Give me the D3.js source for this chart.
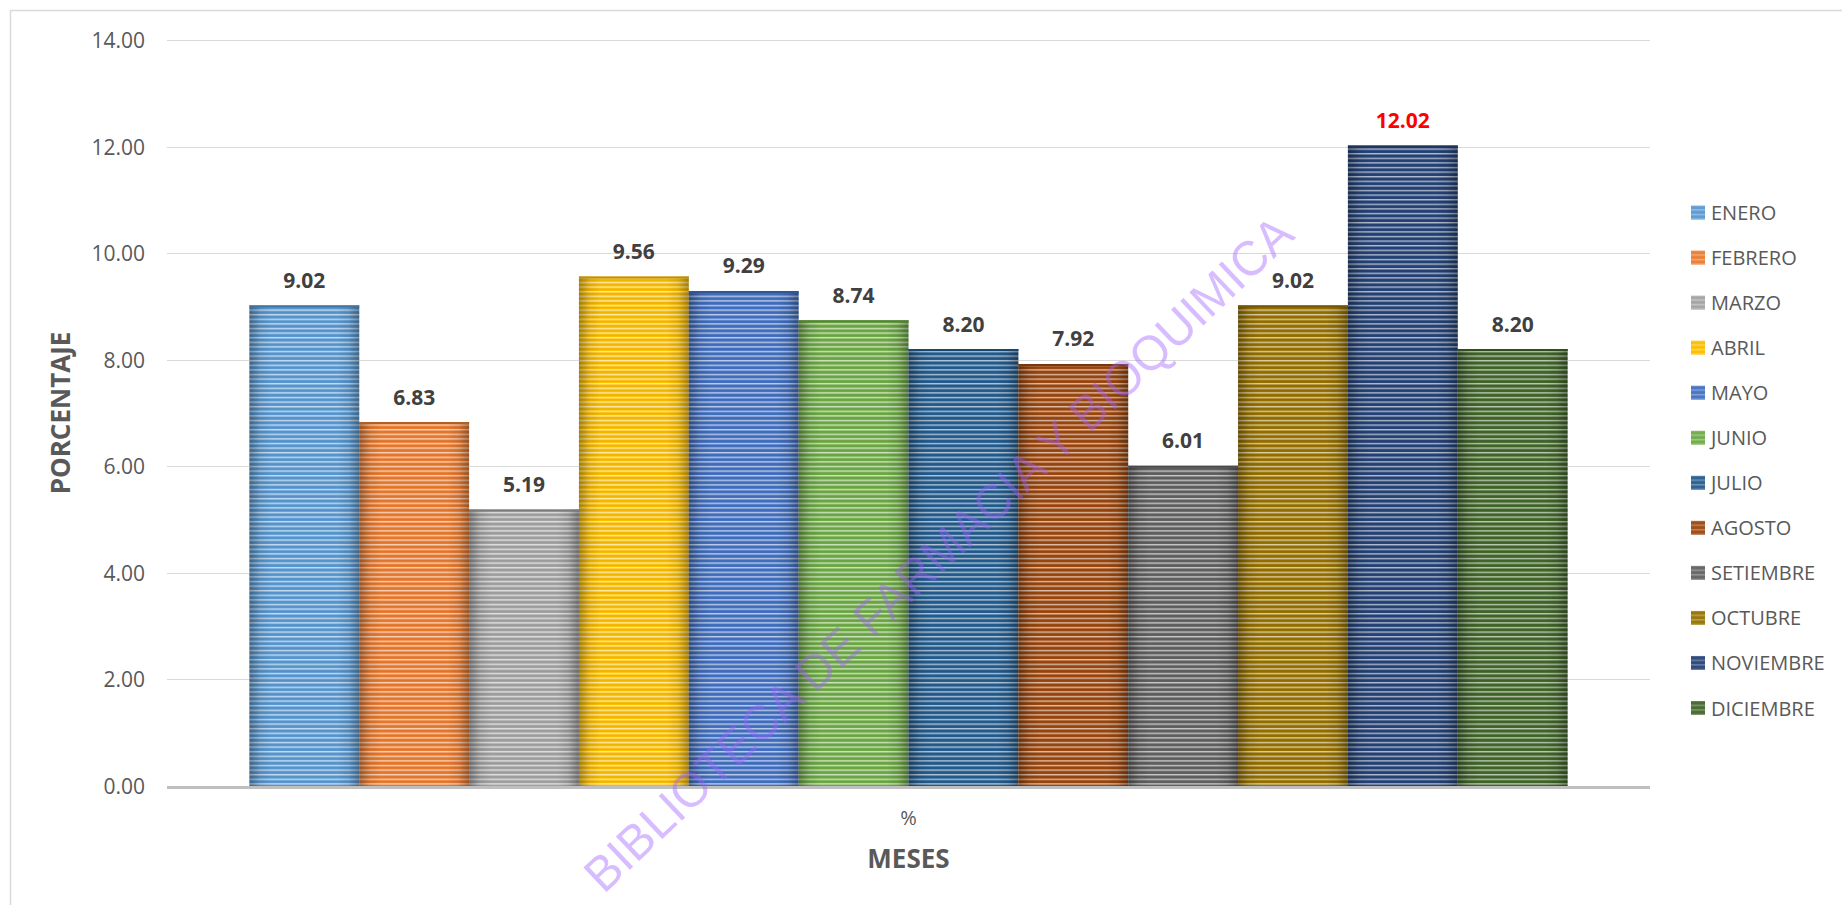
<!DOCTYPE html>
<html>
<head>
<meta charset="utf-8">
<script src="https://cdn.jsdelivr.net/npm/d3@7"></script>
<style>
  html, body { margin: 0; padding: 0; background: #ffffff; overflow: hidden; }
  svg { display: block; font-family: "Open Sans", "Liberation Sans", sans-serif; }
</style>
</head>
<body>
<svg id="chart" width="1842" height="905"></svg>
<script>
// Monthly percentages (one cluster, one bar per month)
const months = ["ENERO", "FEBRERO", "MARZO", "ABRIL", "MAYO", "JUNIO", "JULIO",
                "AGOSTO", "SETIEMBRE", "OCTUBRE", "NOVIEMBRE", "DICIEMBRE"];
const values = [9.02, 6.83, 5.19, 9.56, 9.29, 8.74, 8.20, 7.92, 6.01, 9.02, 12.02, 8.20];
const colors = ["#5b9bd5", "#ed7d31", "#a5a5a5", "#ffc000", "#4472c4", "#70ad47",
                "#255e91", "#9e480e", "#636363", "#997300", "#264478", "#43682b"];
const categories = ["%"];
const yTicks = [0, 2, 4, 6, 8, 10, 12, 14];
const highlightMonth = "NOVIEMBRE";

const svg = d3.select("#chart");
const defs = svg.append("defs");

// plot frame
const plot = { left: 167, right: 1650, top: 40, bottom: 786 };

const y = d3.scaleLinear().domain([0, 14]).range([plot.bottom, plot.top]);
const xCat = d3.scaleBand().domain(categories).range([plot.left, plot.right]);
const xMonth = d3.scaleBand().domain(months)
  .range([xCat("%"), xCat("%") + xCat.bandwidth()])
  .paddingInner(0).paddingOuter(0.75);

// outer chart border
svg.append("rect")
  .attr("x", 10.5).attr("y", 10.5)
  .attr("width", 1900).attr("height", 1000)
  .attr("fill", "none").attr("stroke", "#d9d9d9").attr("stroke-width", 1.5);

// gridlines
svg.append("g")
  .selectAll("line")
  .data(yTicks.filter(t => t > 0))
  .join("line")
  .attr("x1", plot.left).attr("x2", plot.right)
  .attr("y1", d => Math.round(y(d)) + 0.5).attr("y2", d => Math.round(y(d)) + 0.5)
  .attr("stroke", "#d9d9d9").attr("stroke-width", 1);

// y axis labels
const yAxis = d3.axisLeft(y).tickValues(yTicks).tickFormat(d3.format(".2f")).tickSize(0).tickPadding(0);
const yAxisG = svg.append("g").attr("transform", `translate(${plot.left - 22},0)`).call(yAxis);
yAxisG.select(".domain").remove();
yAxisG.selectAll("text")
  .attr("font-family", "'Open Sans', sans-serif")
  .attr("font-size", 21).attr("fill", "#595959").attr("dy", "0.36em");

// stripe patterns and side shading
const mix = (c, t, a) => d3.interpolateRgb(c, t)(a);
months.forEach((m, i) => {
  const base = colors[i];
  const grad = defs.append("linearGradient")
    .attr("id", "stripe-grad-" + i)
    .attr("x1", 0).attr("y1", 0).attr("x2", 0).attr("y2", 1);
  [[0, mix(base, "#000", 0.1)], [0.3, base], [0.55, mix(base, "#fff", 0.78)],
   [0.8, base], [1, mix(base, "#000", 0.1)]]
    .forEach(([o, c]) => grad.append("stop").attr("offset", o).attr("stop-color", c));
  const pat = defs.append("pattern")
    .attr("id", "stripe-" + i)
    .attr("patternUnits", "userSpaceOnUse")
    .attr("width", 40).attr("height", 4.6)
    .attr("y", plot.bottom);
  pat.append("rect").attr("width", 40).attr("height", 4.6).attr("fill", `url(#stripe-grad-${i})`);
});
const shade = defs.append("linearGradient").attr("id", "side-shade")
  .attr("x1", 0).attr("y1", 0).attr("x2", 1).attr("y2", 0);
[[0, 0.32], [0.1, 0.08], [0.2, 0], [0.8, 0], [0.9, 0.08], [1, 0.32]]
  .forEach(([o, a]) => shade.append("stop").attr("offset", o)
    .attr("stop-color", "#000").attr("stop-opacity", a));

const bars = svg.append("g");
const barData = months.map((m, i) => ({ month: m, value: values[i], color: colors[i], i }));

bars.selectAll("rect.bar")
  .data(barData)
  .join("rect")
  .attr("class", "bar")
  .attr("x", d => xMonth(d.month))
  .attr("y", d => y(d.value))
  .attr("width", xMonth.bandwidth())
  .attr("height", d => y(0) - y(d.value))
  .attr("fill", d => `url(#stripe-${d.i})`);

bars.selectAll("rect.shade")
  .data(barData)
  .join("rect")
  .attr("class", "shade")
  .attr("x", d => xMonth(d.month))
  .attr("y", d => y(d.value))
  .attr("width", xMonth.bandwidth())
  .attr("height", d => y(0) - y(d.value))
  .attr("fill", "url(#side-shade)");

// darker top edge of each bar
bars.selectAll("line.top")
  .data(barData)
  .join("line")
  .attr("class", "top")
  .attr("x1", d => xMonth(d.month)).attr("x2", d => xMonth(d.month) + xMonth.bandwidth())
  .attr("y1", d => y(d.value) + 1).attr("y2", d => y(d.value) + 1)
  .attr("stroke", d => mix(d.color, "#000", 0.25)).attr("stroke-width", 2);

// baseline axis
svg.append("line")
  .attr("x1", plot.left).attr("x2", plot.right)
  .attr("y1", y(0) + 1.5).attr("y2", y(0) + 1.5)
  .attr("stroke", "#bfbfbf").attr("stroke-width", 3);

// data labels
svg.append("g")
  .selectAll("text")
  .data(barData)
  .join("text")
  .attr("x", d => xMonth(d.month) + xMonth.bandwidth() / 2)
  .attr("y", d => y(d.value) - 17.5)
  .attr("text-anchor", "middle")
  .attr("font-size", 21).attr("font-weight", 700)
  .attr("fill", d => d.month === highlightMonth ? "#ff0000" : "#404040")
  .text(d => d3.format(".2f")(d.value));

// category label
svg.append("text")
  .attr("x", xCat("%") + xCat.bandwidth() / 2).attr("y", 825)
  .attr("text-anchor", "middle")
  .attr("font-size", 20).attr("fill", "#595959")
  .text(categories[0]);

// axis titles
svg.append("text")
  .attr("x", xCat("%") + xCat.bandwidth() / 2).attr("y", 867.5)
  .attr("text-anchor", "middle")
  .attr("font-size", 26).attr("font-weight", 700).attr("fill", "#595959")
  .text("MESES");

svg.append("text")
  .attr("transform", `translate(70,${(plot.top + plot.bottom) / 2}) rotate(-90)`)
  .attr("text-anchor", "middle")
  .attr("font-size", 26).attr("font-weight", 700).attr("fill", "#595959")
  .text("PORCENTAJE");

// legend
const legend = svg.append("g").attr("transform", "translate(1691,0)");
const legendY = d3.scalePoint().domain(months).range([212.6, 708]);
const items = legend.selectAll("g").data(barData).join("g")
  .attr("transform", d => `translate(0,${legendY(d.month)})`);
items.append("rect")
  .attr("x", 0).attr("y", -7).attr("width", 14).attr("height", 14)
  .attr("fill", d => `url(#stripe-${d.i})`);
items.append("rect")
  .attr("x", 0).attr("y", -7).attr("width", 14).attr("height", 14)
  .attr("fill", d => mix(d.color, "#fff", 0.1)).attr("opacity", 0.55);
items.append("text")
  .attr("x", 20).attr("y", 7.5)
  .attr("font-size", 20).attr("fill", "#595959")
  .text(d => d.month);

// watermark
svg.append("text")
  .attr("transform", "translate(950,566) rotate(-43.5)")
  .attr("text-anchor", "middle")
  .attr("font-family", "'Liberation Sans', sans-serif")
  .attr("font-size", 49)
  .attr("textLength", 955).attr("lengthAdjust", "spacingAndGlyphs")
  .attr("fill", "#a060ff").attr("fill-opacity", 0.42)
  .text("BIBLIOTECA DE FARMACIA Y BIOQUIMICA");
</script>
</body>
</html>
